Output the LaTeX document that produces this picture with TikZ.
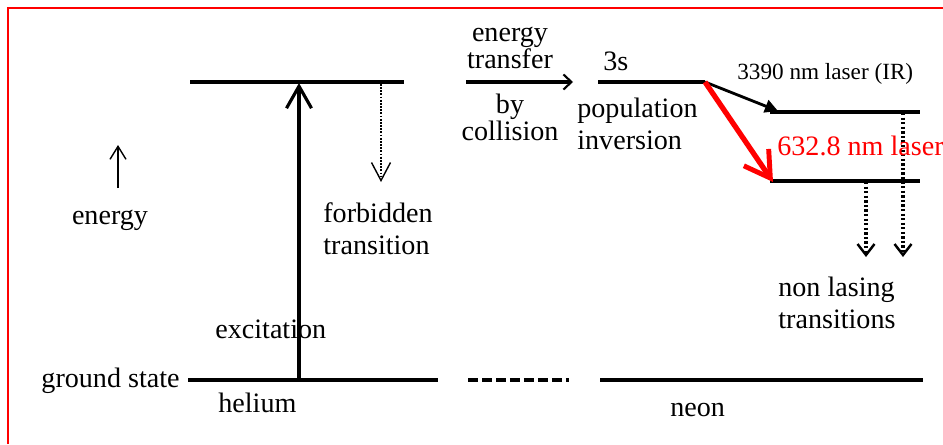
\documentclass[tikz,border=0pt]{standalone}
\usepackage{fontspec}
\setmainfont{Liberation Serif}
\usetikzlibrary{arrows.meta}
\tikzset{
  level/.style={line width=2.2pt},
  txt/.style={font=\fontsize{16}{18.2}\selectfont, inner sep=0pt, align=left},
  tight/.style={font=\fontsize{16}{15.4}\selectfont, inner sep=0pt, align=center},
  small/.style={font=\fontsize{13.2}{15}\selectfont, inner sep=0pt},
  pump/.style={-{Straight Barb[length=4.4mm,width=5mm,line width=1.8pt]},
               line width=2pt},
  forbid/.style={-{Straight Barb[length=3.6mm,width=3.8mm,line width=0.8pt]},
                 line width=1.2pt, dash pattern=on 1pt off 0.8pt},
  decay/.style={-{Straight Barb[length=2.2mm,width=3.4mm,line width=1.4pt]},
                line width=2pt, dash pattern=on 1.3pt off 1.3pt},
  lase/.style={-{Straight Barb[length=5mm,width=6mm,line width=2.8pt]},
               line width=3pt, draw=red},
}

\begin{document}
\begin{tikzpicture}[x=0.02cm, y=-0.02cm]
\useasboundingbox (0,0) rectangle (943,444);
\draw[red, line width=1.1pt] (8,444) -- (8,8) -- (943,8);

% helium levels
\coordinate (heUL) at (190,82);  \coordinate (heUR) at (404,82);
\coordinate (heGL) at (188,380); \coordinate (heGR) at (438,380);
\draw[level] (heUL) -- (heUR);
\draw[level] (heGL) -- (heGR);

% neon levels
\coordinate (ne3L) at (598,82);  \coordinate (ne3R) at (705,82);
\coordinate (neML) at (770,112); \coordinate (neMR) at (920,112);
\coordinate (neLL) at (770,181); \coordinate (neLR) at (920,181);
\coordinate (neGL) at (600,380); \coordinate (neGR) at (923,380);
\draw[level] (ne3L) -- (ne3R);
\draw[level] (neML) -- (neMR);
\draw[level] (neLL) -- (neLR);
\draw[level] (neGL) -- (neGR);

\coordinate (gapL) at (468,380); \coordinate (gapR) at (569,380);
\draw[level, dash pattern=on 0.2cm off 0.08cm] (gapL) -- (gapR);

% transitions
\coordinate (excB) at (299,380); \coordinate (excT) at (299,83);
\draw[pump] (excB) -- (excT);
\coordinate (forT) at (381,84); \coordinate (forB) at (381,182);
\draw[forbid] (forT) -- (forB);
\coordinate (enB) at (118,188); \coordinate (enT) at (118,145);
\draw[-{Straight Barb[length=2.6mm,width=3.2mm,line width=0.8pt]}, line width=0.8pt]
  (enB) -- (enT);
\coordinate (trL) at (466,82); \coordinate (trR) at (573,82);
\draw[level, -{Straight Barb[length=1.6mm,width=3mm,line width=1.2pt]}] (trL) -- (trR);
\coordinate (irE) at (778,111);
\draw[line width=1.6pt, -{Triangle[length=2.6mm,width=2.6mm]}] (ne3R) -- (irE);
\coordinate (redE) at (773,182);
\draw[lase] (ne3R) -- (redE);
\coordinate (d1T) at (903,113); \coordinate (d1B) at (903,257);
\coordinate (d2T) at (866,182); \coordinate (d2B) at (866,257);
\draw[decay] (d1T) -- (d1B);
\draw[decay] (d2T) -- (d2B);

% labels
\node[txt, anchor=base] (energy) at (110,224) {energy};
\node[txt, anchor=base east] (ground) at (180,387) {ground state};
\node[txt, anchor=base west] (helium) at (218,412) {helium};
\node[txt, anchor=base west] (neon) at (670,416) {neon};
\node[txt, anchor=base west] (excit) at (215,338) {excitation};
\node[txt, anchor=west] (forbid) at (323,229) {forbidden\\transition};
\node[tight] (transfer) at (510,48) {energy\\transfer};
\node[tight] (collide) at (510,117) {by\\collision};
\node[txt, anchor=base west] (three) at (603,70) {3s};
\node[txt, anchor=west] (popinv) at (577,124) {population\\inversion};
\node[small, anchor=base west] (ir) at (737,79) {3390 nm laser (IR)};
\node[txt, anchor=base west, text=red] (visible) at (777,155) {632.8 nm laser};
\node[txt, anchor=west] (nonlase) at (778,303) {non lasing\\transitions};
\end{tikzpicture}
\end{document}
